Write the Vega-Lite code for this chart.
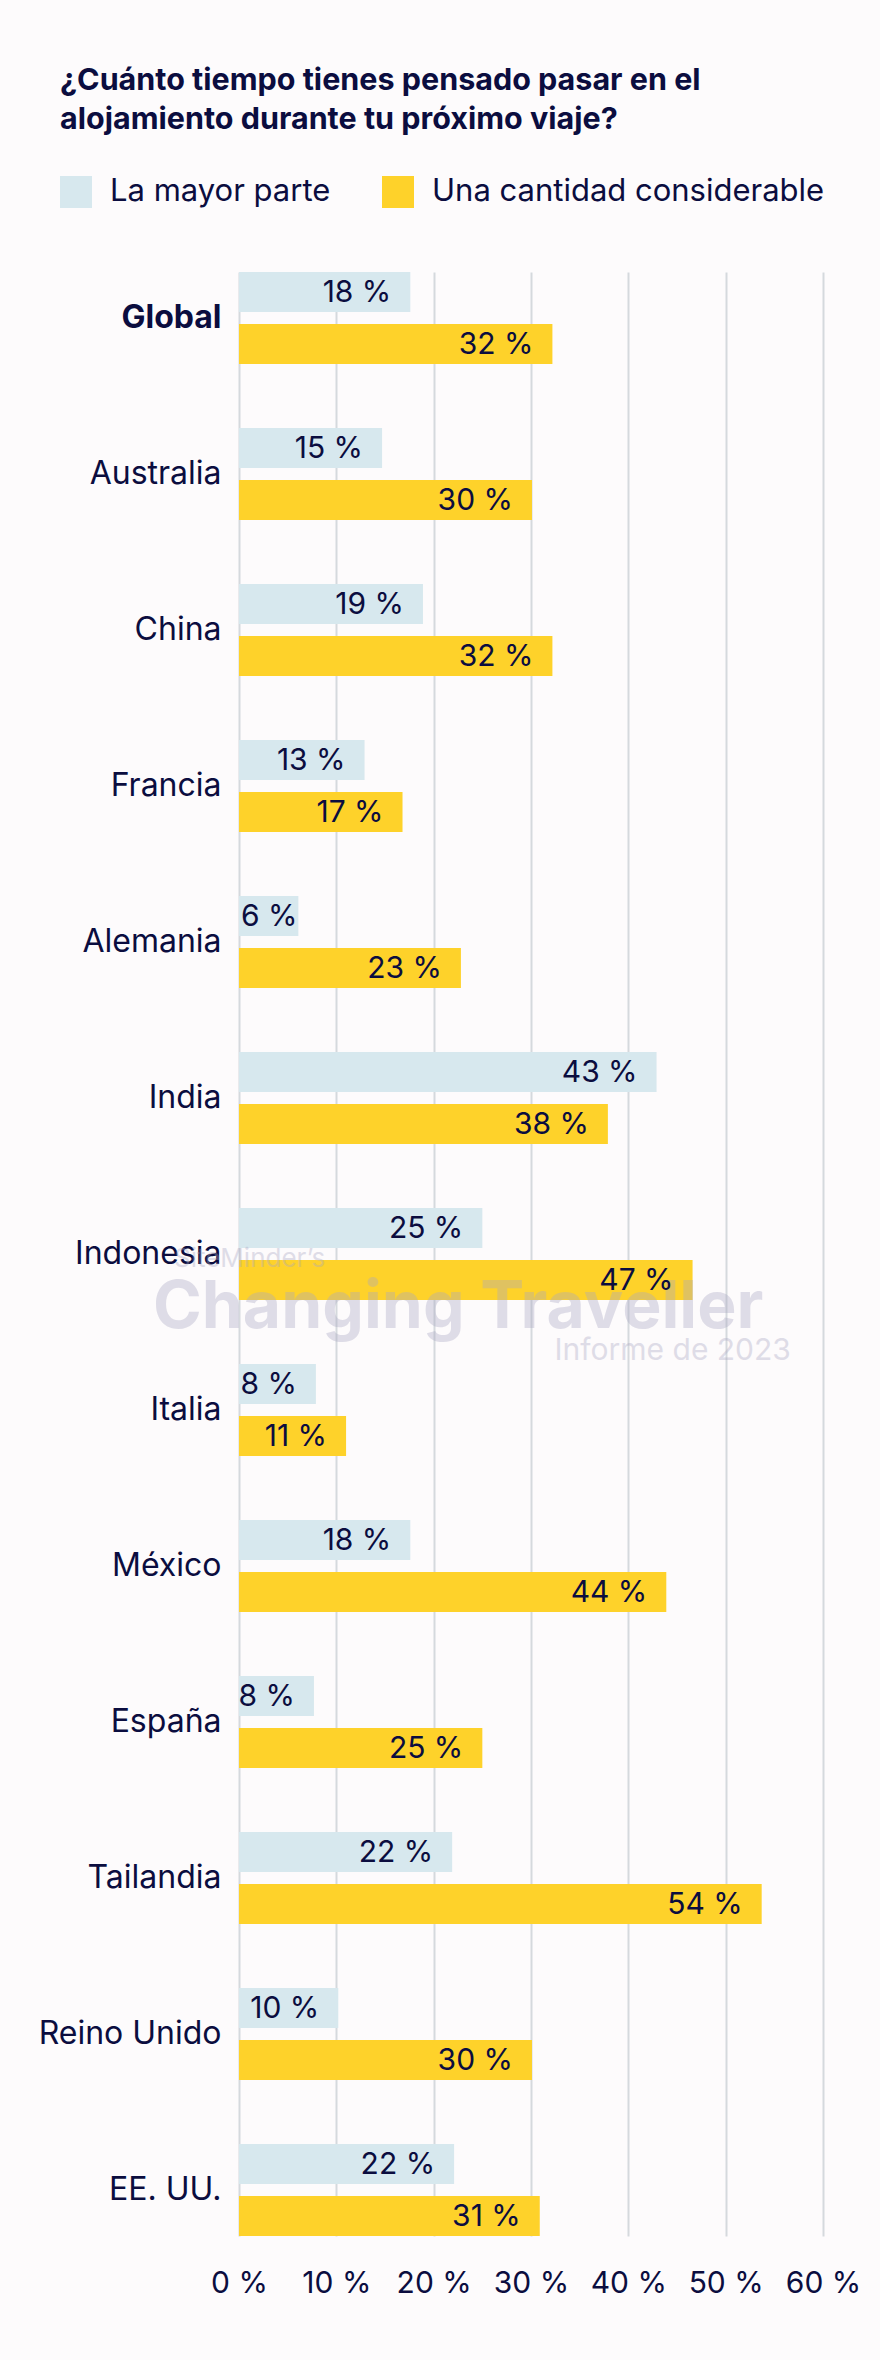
{
  "$schema": "https://vega.github.io/schema/vega-lite/v6.json",
  "width": 584,
  "height": 1964,
  "autosize": {"type": "none"},
  "padding": {"left": 239, "top": 272, "right": 57, "bottom": 124},
  "background": "#fdfbfc",
  "config": {"view": {"stroke": null}, "font": "Inter"},
  "title": {
    "text": ["¿Cuánto tiempo tienes pensado pasar en el", "alojamiento durante tu próximo viaje?"],
    "anchor": "start",
    "frame": "group",
    "dx": -179,
    "font": "Inter",
    "fontSize": 30.5,
    "fontWeight": "bold",
    "color": "#0b0d3f",
    "lineHeight": 39,
    "offset": 41
  },
  "data": {
    "values": [
      {"pais": "Global", "serie": "La mayor parte", "valor": 17.6},
      {"pais": "Global", "serie": "Una cantidad considerable", "valor": 32.2},
      {"pais": "Australia", "serie": "La mayor parte", "valor": 14.7},
      {"pais": "Australia", "serie": "Una cantidad considerable", "valor": 30.1},
      {"pais": "China", "serie": "La mayor parte", "valor": 18.9},
      {"pais": "China", "serie": "Una cantidad considerable", "valor": 32.2},
      {"pais": "Francia", "serie": "La mayor parte", "valor": 12.9},
      {"pais": "Francia", "serie": "Una cantidad considerable", "valor": 16.8},
      {"pais": "Alemania", "serie": "La mayor parte", "valor": 6.1},
      {"pais": "Alemania", "serie": "Una cantidad considerable", "valor": 22.8},
      {"pais": "India", "serie": "La mayor parte", "valor": 42.9},
      {"pais": "India", "serie": "Una cantidad considerable", "valor": 37.9},
      {"pais": "Indonesia", "serie": "La mayor parte", "valor": 25.0},
      {"pais": "Indonesia", "serie": "Una cantidad considerable", "valor": 46.6},
      {"pais": "Italia", "serie": "La mayor parte", "valor": 7.9},
      {"pais": "Italia", "serie": "Una cantidad considerable", "valor": 11.0},
      {"pais": "México", "serie": "La mayor parte", "valor": 17.6},
      {"pais": "México", "serie": "Una cantidad considerable", "valor": 43.9},
      {"pais": "España", "serie": "La mayor parte", "valor": 7.7},
      {"pais": "España", "serie": "Una cantidad considerable", "valor": 25.0},
      {"pais": "Tailandia", "serie": "La mayor parte", "valor": 21.9},
      {"pais": "Tailandia", "serie": "Una cantidad considerable", "valor": 53.7},
      {"pais": "Reino Unido", "serie": "La mayor parte", "valor": 10.2},
      {"pais": "Reino Unido", "serie": "Una cantidad considerable", "valor": 30.1},
      {"pais": "EE. UU.", "serie": "La mayor parte", "valor": 22.1},
      {"pais": "EE. UU.", "serie": "Una cantidad considerable", "valor": 30.9}
    ]
  },
  "encoding": {
    "y": {
      "field": "pais",
      "type": "nominal",
      "sort": ["Global", "Australia", "China", "Francia", "Alemania", "India", "Indonesia", "Italia", "México", "España", "Tailandia", "Reino Unido", "EE. UU."],
      "scale": {"paddingInner": 0.41, "paddingOuter": 0},
      "axis": {
        "title": null,
        "domain": false,
        "ticks": false,
        "grid": false,
        "labelPadding": 18,
        "labelFont": "Inter",
        "labelFontSize": 32,
        "labelColor": "#0b0d3f",
        "labelLimit": 300,
        "labelFontWeight": {"condition": {"test": "datum.value == 'Global'", "value": "bold"}, "value": "normal"}
      }
    }
  },
  "layer": [
    {
      "mark": {"type": "bar"},
      "encoding": {
        "yOffset": {"field": "serie", "type": "nominal", "sort": ["La mayor parte", "Una cantidad considerable"], "scale": {"paddingInner": 0.2308, "paddingOuter": 0}},
        "x": {
          "field": "valor",
          "type": "quantitative",
          "scale": {"domain": [0, 60], "nice": false},
          "axis": {
            "title": null,
            "values": [0, 10, 20, 30, 40, 50, 60],
            "labelExpr": "datum.value + ' %'",
            "grid": true,
            "gridColor": "#d5d9dd",
            "gridWidth": 2,
            "domain": false,
            "ticks": false,
            "labelPadding": 32,
            "labelFont": "Inter",
            "labelFontSize": 30,
            "labelColor": "#0b0d3f",
            "labelFlush": false
          }
        },
        "color": {
          "field": "serie",
          "type": "nominal",
          "scale": {"domain": ["La mayor parte", "Una cantidad considerable"], "range": ["#d7e8ee", "#fed22a"]},
          "legend": {
            "orient": "none",
            "legendX": -179,
            "legendY": -96,
            "direction": "horizontal",
            "title": null,
            "symbolType": "square",
            "symbolSize": 1024,
            "symbolStrokeWidth": 0,
            "symbolOpacity": 1,
            "labelFont": "Inter",
            "labelFontSize": 31,
            "labelColor": "#0b0d3f",
            "labelOffset": 18,
            "labelLimit": 0,
            "columnPadding": 51,
            "padding": 0
          }
        }
      }
    },
    {
      "data": {"values": [{}]},
      "mark": {"type": "text", "align": "left", "baseline": "alphabetic", "dy": 13, "font": "Inter", "fontSize": 26, "fontWeight": "normal", "color": "#aaa8c3", "opacity": 0.36},
      "encoding": {"x": {"datum": -6.68, "type": "quantitative"}, "y": {"datum": "Indonesia", "type": "nominal"}, "text": {"value": "SiteMinder’s"}}
    },
    {
      "data": {"values": [{}]},
      "mark": {"type": "text", "align": "left", "baseline": "alphabetic", "dy": 74, "font": "Inter", "fontSize": 66, "fontWeight": "bold", "color": "#aaa8c3", "opacity": 0.36},
      "encoding": {"x": {"datum": -8.84, "type": "quantitative"}, "y": {"datum": "Indonesia", "type": "nominal"}, "text": {"value": "Changing Traveller"}}
    },
    {
      "data": {"values": [{}]},
      "mark": {"type": "text", "align": "right", "baseline": "alphabetic", "dy": 106, "font": "Inter", "fontSize": 30, "color": "#aaa8c3", "opacity": 0.36},
      "encoding": {"x": {"datum": 56.7, "type": "quantitative"}, "y": {"datum": "Indonesia", "type": "nominal"}, "text": {"value": "Informe de 2023"}}
    },
    {
      "transform": [
        {"filter": "datum.valor >= 7"},
        {"calculate": "format(datum.valor, '.0f') + ' %'", "as": "etiqueta"}
      ],
      "mark": {"type": "text", "align": "right", "baseline": "middle", "dx": -19, "dy": 1, "font": "Inter", "fontSize": 30, "color": "#0b0d3f"},
      "encoding": {
        "yOffset": {"field": "serie", "type": "nominal", "sort": ["La mayor parte", "Una cantidad considerable"], "scale": {"paddingInner": 0.2308, "paddingOuter": 0}},
        "x": {"field": "valor", "type": "quantitative"},
        "text": {"field": "etiqueta"}
      }
    },
    {
      "transform": [
        {"filter": "datum.valor < 7"},
        {"calculate": "format(datum.valor, '.0f') + ' %'", "as": "etiqueta"}
      ],
      "mark": {"type": "text", "align": "left", "baseline": "middle", "dx": 2, "dy": 1, "font": "Inter", "fontSize": 30, "color": "#0b0d3f"},
      "encoding": {
        "yOffset": {"field": "serie", "type": "nominal", "sort": ["La mayor parte", "Una cantidad considerable"], "scale": {"paddingInner": 0.2308, "paddingOuter": 0}},
        "x": {"datum": 0, "type": "quantitative"},
        "text": {"field": "etiqueta"}
      }
    }
  ]
}
